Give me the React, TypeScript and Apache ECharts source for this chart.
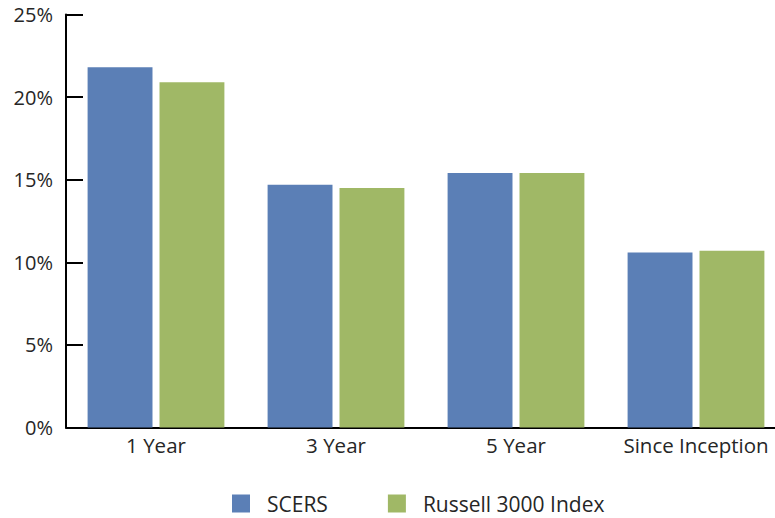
import React, { useEffect, useRef } from "react";
import * as echarts from "echarts";

const categories = ["1 Year", "3 Year", "5 Year", "Since Inception"];
const scersReturns = [21.8, 14.7, 15.4, 10.6];
const russellReturns = [20.9, 14.5, 15.4, 10.7];
const yTicks = [0, 5, 10, 15, 20, 25];

const FONT = "Open Sans";
const TEXT = "#262626";

export default function App() {
  const ref = useRef<HTMLDivElement>(null);

  useEffect(() => {
    if (!ref.current) return;
    const chart = echarts.init(ref.current, undefined, { renderer: "svg" });
    chart.setOption({
      animation: false,
      textStyle: { fontFamily: FONT, color: TEXT },
      // the last category runs past the visible right edge
      grid: { left: 66, top: 14.5, width: 720, height: 413 },
      legend: {
        left: 232,
        top: 493,
        padding: 0,
        itemWidth: 18,
        itemHeight: 18,
        itemGap: 60,
        icon: "rect",
        textStyle: {
          fontFamily: FONT,
          fontSize: 21,
          lineHeight: 20,
          color: TEXT,
          padding: [0, 0, 0, 12],
        },
        data: ["SCERS", "Russell 3000 Index"],
      },
      xAxis: {
        type: "category",
        data: categories,
        axisLine: { lineStyle: { color: "#000", width: 2 } },
        axisTick: { inside: true, length: 10, lineStyle: { color: "#000", width: 1.5 } },
        axisLabel: {
          fontFamily: FONT,
          fontSize: 20.5,
          color: TEXT,
          margin: 7,
          interval: 0,
          hideOverlap: false,
        },
      },
      yAxis: {
        type: "value",
        min: yTicks[0],
        max: yTicks[yTicks.length - 1],
        interval: 5,
        splitLine: { show: false },
        axisLine: { show: true, lineStyle: { color: "#000", width: 2 } },
        axisTick: { show: true, inside: true, length: 17, lineStyle: { color: "#000", width: 2 } },
        axisLabel: { fontFamily: FONT, fontSize: 20, color: TEXT, margin: 13, formatter: "{value}%" },
      },
      series: [
        {
          name: "SCERS",
          type: "bar",
          data: scersReturns,
          itemStyle: { color: "#5B7FB6" },
          barGap: "10.8%",
          barCategoryGap: "24%",
        },
        {
          name: "Russell 3000 Index",
          type: "bar",
          data: russellReturns,
          itemStyle: { color: "#A0B866" },
        },
      ],
    });
    return () => chart.dispose();
  }, []);

  return (
    <div
      style={{
        position: "fixed",
        left: 0,
        top: 0,
        width: 775,
        height: 518,
        overflow: "hidden",
        background: "#fff",
      }}
    >
      <div ref={ref} style={{ width: 800, height: 518 }} />
    </div>
  );
}
